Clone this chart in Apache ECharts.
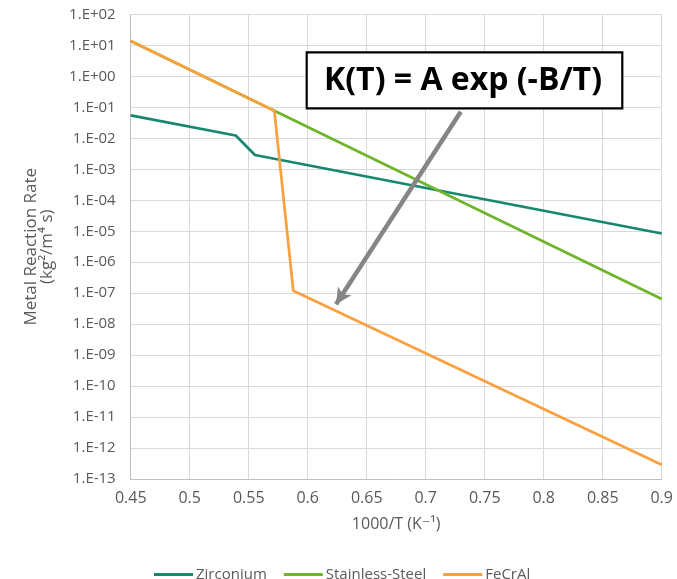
<!DOCTYPE html>
<html>
<head>
<meta charset="utf-8">
<script src="https://cdn.jsdelivr.net/npm/echarts@6/dist/echarts.min.js"></script>
<style>
  html, body { margin: 0; padding: 0; background: #ffffff; }
  #chart { width: 677px; height: 579px; }
</style>
</head>
<body>
<div id="chart"></div>
<script>
// Metal reaction rate vs inverse temperature (Arrhenius form)
const seriesNames = ['Zirconium', 'Stainless-Steel', 'FeCrAl'];

const zirconiumX = [0.45, 0.539, 0.5553, 0.9];
const zirconiumY = [5.5e-2, 1.24e-2, 2.9e-3, 8.5e-6];

const steelX = [0.45, 0.5717, 0.9];
const steelY = [1.4e1, 7.8e-2, 6.5e-8];

const fecralX = [0.45, 0.5717, 0.5878, 0.9];
const fecralY = [1.4e1, 7.8e-2, 1.2e-7, 2.9e-13];

const xTicks = { min: 0.45, max: 0.9, step: 0.05 };
const yTicks = { min: 1e-13, max: 1e2 };

// Arrow from the formula box down to the FeCrAl line (data space)
const arrowFrom = [0.7297, 7.2e-2];
const arrowTo = [0.624, 4.4e-8];

const colors = ['#17876f', '#6fb52c', '#f9a03f'];
const textGray = '#595959';
const fontFamily = '"Open Sans", "DejaVu Sans", sans-serif';

function pairs(xs, ys) {
  return xs.map((x, i) => [x, ys[i]]);
}

function expLabel(v) {
  const e = Math.round(Math.log10(v));
  const sign = e < 0 ? '-' : '+';
  const a = Math.abs(e);
  return '1.E' + sign + (a < 10 ? '0' + a : String(a));
}

const chart = echarts.init(document.getElementById('chart'));

const lineSeries = (name, data, color, z) => ({
  name: name,
  type: 'line',
  data: data,
  showSymbol: false,
  symbol: 'none',
  z: z,
  lineStyle: { color: color, width: 2.7 },
  itemStyle: { color: color },
  emphasis: { disabled: true },
  animation: false
});

const option = {
  animation: false,
  textStyle: { fontFamily: fontFamily },
  grid: { left: 130.7, right: 15.3, top: 14.5, bottom: 100, containLabel: false },
  legend: {
    data: seriesNames,
    left: 149,
    top: 562,
    icon: 'rect',
    itemWidth: 39,
    itemHeight: 3,
    itemGap: 17,
    textStyle: { color: textGray, fontSize: 15, fontFamily: fontFamily, padding: [0, 0, 0, -2] }
  },
  xAxis: {
    type: 'value',
    min: xTicks.min,
    max: xTicks.max,
    interval: xTicks.step,
    name: '1000/T (K\u207B\u00B9)',
    nameLocation: 'middle',
    nameGap: 37,
    nameTextStyle: { color: textGray, fontSize: 16, fontFamily: fontFamily },
    axisLine: { show: true, lineStyle: { color: '#bfbfbf', width: 1 } },
    axisTick: { show: false },
    axisLabel: {
      color: textGray,
      fontSize: 16,
      margin: 11,
      formatter: v => String(parseFloat(v.toFixed(2)))
    },
    splitLine: { show: true, lineStyle: { color: '#d9d9d9', width: 1 } }
  },
  yAxis: {
    type: 'log',
    logBase: 10,
    min: yTicks.min,
    max: yTicks.max,
    interval: 1,
    name: 'Metal Reaction Rate\n(kg\u00B2/m\u2074 s)',
    nameLocation: 'middle',
    nameGap: 76,
    nameRotate: 90,
    nameTextStyle: { color: textGray, fontSize: 17, lineHeight: 16, fontFamily: fontFamily },
    axisLine: { show: true, lineStyle: { color: '#bfbfbf', width: 1 } },
    axisTick: { show: false },
    axisLabel: { color: textGray, fontSize: 15, margin: 15, formatter: expLabel },
    splitLine: { show: true, lineStyle: { color: '#d9d9d9', width: 1 } }
  },
  series: [
    lineSeries(seriesNames[0], pairs(zirconiumX, zirconiumY), colors[0], 3),
    lineSeries(seriesNames[1], pairs(steelX, steelY), colors[1], 4),
    Object.assign(lineSeries(seriesNames[2], pairs(fecralX, fecralY), colors[2], 5), {
      markLine: {
        silent: true,
        symbol: ['none', 'arrow'],
        symbolSize: [12, 16],
        label: { show: false },
        lineStyle: { color: '#858585', width: 4.5, type: 'solid' },
        data: [[{ coord: arrowFrom }, { coord: arrowTo }]],
        animation: false
      }
    })
  ],
  graphic: [
    {
      type: 'rect',
      z: 100,
      shape: { x: 306.7, y: 52.3, width: 315.6, height: 56 },
      style: { fill: '#ffffff', stroke: '#000000', lineWidth: 2.2 }
    },
    {
      type: 'text',
      z: 101,
      x: 463,
      y: 80.5,
      style: {
        text: 'K(T) = A exp (-B/T)',
        fill: '#000000',
        font: 'bold 32px "Open Sans", "DejaVu Sans", sans-serif',
        align: 'center',
        verticalAlign: 'middle'
      }
    }
  ]
};

chart.setOption(option);
</script>
</body>
</html>
